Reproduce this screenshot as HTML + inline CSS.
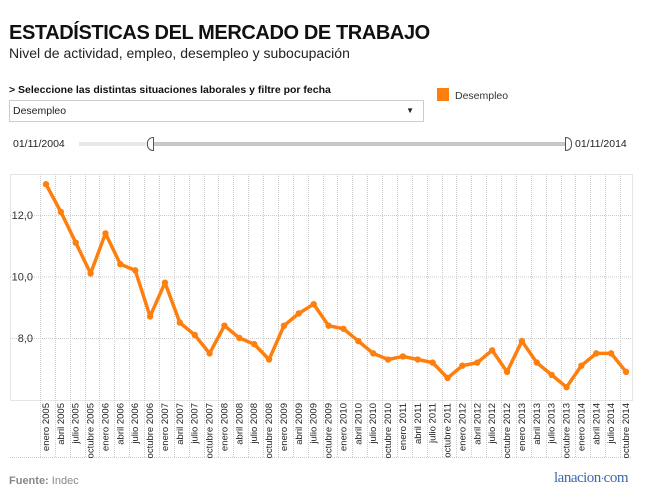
<!DOCTYPE html>
<html><head><meta charset="utf-8">
<style>
body{margin:0;background:#fff;font-family:"Liberation Sans",Arial,sans-serif;}
#wrap{position:relative;width:647px;height:502px;overflow:hidden;background:#fff;}
.abs{position:absolute;}
</style></head>
<body>
<div id="wrap">
<div class="abs" style="left:9px;top:22px;font-size:20px;font-weight:bold;color:#111;letter-spacing:-0.4px;">ESTADÍSTICAS DEL MERCADO DE TRABAJO</div>
<div class="abs" style="left:9px;top:45px;font-size:14px;color:#222;">Nivel de actividad, empleo, desempleo y subocupación</div>
<div class="abs" style="left:9px;top:84px;font-size:10.5px;font-weight:bold;color:#111;">&gt; Seleccione las distintas situaciones laborales y filtre por fecha</div>
<div class="abs" style="left:9px;top:100px;width:410px;height:20px;border:1px solid #ccc;font-size:10.5px;color:#222;line-height:20px;padding-left:3px;">Desempleo<span style="position:absolute;right:9px;top:0;font-size:8px;">▼</span></div>
<div class="abs" style="left:437px;top:88px;width:12px;height:13px;background:#ff7f0e;"></div>
<div class="abs" style="left:455px;top:90px;font-size:10.5px;color:#333;">Desempleo</div>
<div class="abs" style="left:13px;top:138px;font-size:10.5px;color:#222;">01/11/2004</div>
<div class="abs" style="left:79px;top:142px;width:68px;height:4px;background:#e8e8e8;"></div>
<div class="abs" style="left:150px;top:142px;width:418px;height:4px;background:#c8c8c8;"></div>
<div class="abs" style="left:147px;top:137px;width:5px;height:12px;border:1px solid #555;border-radius:6px 0 0 6px;background:#fff;"></div>
<div class="abs" style="left:565px;top:137px;width:5px;height:12px;border:1px solid #555;border-radius:0 6px 6px 0;background:#fff;"></div>
<div class="abs" style="left:575px;top:138px;font-size:10.5px;color:#222;">01/11/2014</div>
<svg class="abs" style="left:0;top:0" width="647" height="502" id="chart"></svg>
<div class="abs" style="left:9px;top:475px;font-size:11px;color:#888;"><b>Fuente:</b> Indec</div>
<div class="abs" style="left:554px;top:470px;font-family:'Liberation Serif',serif;font-size:15px;color:#3a6aa8;letter-spacing:-0.5px;">lanacion<span style="font-size:10px">·</span>com</div>
</div>
<script>
const categories=[];
const months=["enero","abril","julio","octubre"];
for(let y=2005;y<=2014;y++)for(const m of months)categories.push(m+" "+y);
const values=[13.0,12.1,11.1,10.1,11.4,10.4,10.2,8.7,9.8,8.5,8.1,7.5,8.4,8.0,7.8,7.3,8.4,8.8,9.1,8.4,8.3,7.9,7.5,7.3,7.4,7.3,7.2,6.7,7.1,7.2,7.6,6.9,7.9,7.2,6.8,6.4,7.1,7.5,7.5,6.9];
const yTicks=[8,10,12];
const yTickLabels=["8,0","10,0","12,0"];
const NS="http://www.w3.org/2000/svg";
const svg=document.getElementById("chart");
const top_=174,bot=400,left=10,right=632;
function xs(i){return 46+i*(580/(categories.length-1));}
function ys(v){return 338-(v-8)*30.75;}
function mk(t,a){const e=document.createElementNS(NS,t);for(const k in a)e.setAttribute(k,a[k]);svg.appendChild(e);return e;}
const dash={stroke:"#ccc","stroke-width":1,"stroke-dasharray":"1,1",fill:"none"};
let r=mk("rect",Object.assign({x:left+0.5,y:top_+0.5,width:right-left,height:bot-top_},dash));


let lb=mk("line",Object.assign({x1:left,x2:right,y1:457.5,y2:457.5},dash));


yTicks.forEach((t,i)=>{
 const g=mk("line",Object.assign({x1:left,x2:right,y1:ys(t)+0.5,y2:ys(t)+0.5},dash));
 
 
 const tx=mk("text",{x:33,y:ys(t)+4,"text-anchor":"end","font-size":"11",fill:"#333","font-family":"Liberation Sans,sans-serif"});
 tx.textContent=yTickLabels[i];
 
 
});
categories.forEach((c,i)=>{
 const x=Math.round(xs(i)-6)+0.5;
 const g=mk("line",Object.assign({x1:x,x2:x,y1:top_,y2:457},dash));
 
 
 const tx=mk("text",{transform:`translate(${xs(i)+3},403) rotate(-90)`,"text-anchor":"end","font-size":"9.5",fill:"#222","font-family":"Liberation Sans,sans-serif"});
 tx.textContent=c;
 
 
});
const line=mk("polyline",{points:values.map((v,i)=>xs(i)+","+ys(v)).join(" "),fill:"none",stroke:"#ff7f0e","stroke-width":3.5,"stroke-linejoin":"round"});


values.forEach((v,i)=>{
 const p=mk("circle",{cx:xs(i),cy:ys(v),r:3.2,fill:"#ff7f0e"});
 
 
});
</script>
</body></html>
